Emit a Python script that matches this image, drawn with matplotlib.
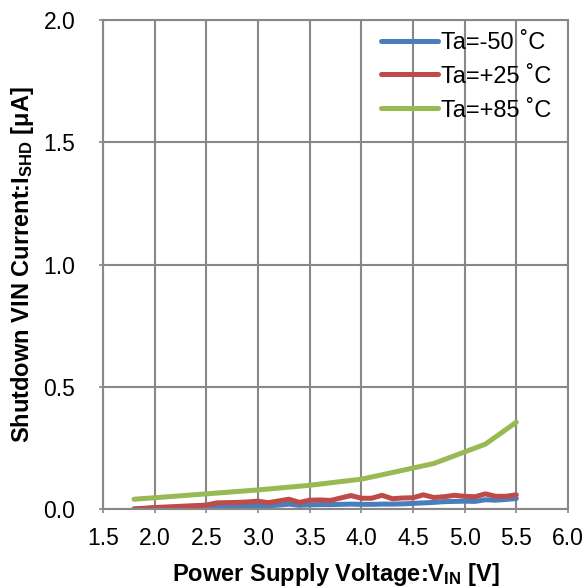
import matplotlib
matplotlib.use("Agg")
import matplotlib.pyplot as plt

plt.rcParams["font.family"] = ["Liberation Sans", "DejaVu Sans"]
plt.rcParams["mathtext.fontset"] = "custom"
plt.rcParams["mathtext.rm"] = "Liberation Sans:bold"
plt.rcParams["mathtext.it"] = "Liberation Sans:bold"
plt.rcParams["mathtext.bf"] = "Liberation Sans:bold"

# Supply voltage sweep (V) for the -50 / +25 degree curves
vin = [1.8, 1.9, 2.0, 2.1, 2.2, 2.3, 2.4, 2.5, 2.6, 2.7, 2.8, 2.9, 3.0, 3.1,
       3.2, 3.3, 3.4, 3.5, 3.6, 3.7, 3.8, 3.9, 4.0, 4.1, 4.2, 4.3, 4.4, 4.5,
       4.6, 4.7, 4.8, 4.9, 5.0, 5.1, 5.2, 5.3, 5.4, 5.5]

# Shutdown current (uA)
i_m50 = [0.000, 0.002, 0.004, 0.005, 0.006, 0.007, 0.008, 0.009, 0.010, 0.011,
         0.012, 0.013, 0.014, 0.013, 0.016, 0.020, 0.015, 0.017, 0.018, 0.018,
         0.019, 0.020, 0.019, 0.019, 0.020, 0.020, 0.021, 0.023, 0.025, 0.027,
         0.030, 0.031, 0.032, 0.031, 0.038, 0.036, 0.039, 0.043]
i_p25 = [0.000, 0.003, 0.006, 0.008, 0.010, 0.012, 0.014, 0.016, 0.025, 0.026,
         0.027, 0.029, 0.032, 0.026, 0.033, 0.040, 0.027, 0.036, 0.037, 0.035,
         0.045, 0.055, 0.044, 0.044, 0.056, 0.042, 0.045, 0.046, 0.058, 0.047,
         0.050, 0.056, 0.052, 0.050, 0.062, 0.052, 0.052, 0.058]

vin_85 = [1.8, 2.0, 2.5, 3.0, 3.5, 4.0, 4.3, 4.7, 5.2, 5.5]
i_p85 = [0.040, 0.046, 0.062, 0.078, 0.097, 0.122, 0.149, 0.186, 0.265, 0.355]

labels = ["Ta=-50 ˚C", "Ta=+25 ˚C", "Ta=+85 ˚C"]
colors = ["#4a7ebb", "#be4b48", "#98b954"]

fig = plt.figure(figsize=(5.84, 5.88), dpi=100)
ax = fig.add_axes([103 / 584, 1 - 509 / 588, 465 / 584, 489 / 588])

lw = 3.6
ax.plot(vin, i_m50, color=colors[0], lw=lw, label=labels[0], solid_capstyle="round")
ax.plot(vin, i_p25, color=colors[1], lw=lw, label=labels[1], solid_capstyle="round")
ax.plot(vin_85, i_p85, color=colors[2], lw=lw, label=labels[2], solid_capstyle="round")

ax.set_xlim(1.5, 6.0)
ax.set_ylim(0.0, 2.0)
ax.set_xticks([1.5, 2.0, 2.5, 3.0, 3.5, 4.0, 4.5, 5.0, 5.5, 6.0])
ax.set_yticks([0.0, 0.5, 1.0, 1.5, 2.0])
ax.xaxis.set_major_formatter(matplotlib.ticker.FormatStrFormatter("%.1f"))
ax.yaxis.set_major_formatter(matplotlib.ticker.FormatStrFormatter("%.1f"))

grid_c = "#888888"
ax.grid(True, color=grid_c, lw=1.5)
ax.set_axisbelow(True)
for s in ax.spines.values():
    s.set_color(grid_c)
    s.set_linewidth(1.5)
ax.tick_params(axis="both", colors=grid_c, labelcolor="black", labelsize=16.5,
               length=3, width=1.2)
ax.tick_params(axis="x", pad=10)
ax.tick_params(axis="y", pad=17)

ax.set_xlabel("Power Supply Voltage:V$_{\\mathrm{IN}}$ [V]", fontsize=17,
              fontweight="bold", labelpad=8)
ax.set_ylabel("Shutdown VIN Current:I$_{\\mathrm{SHD}}$ [μA]", fontsize=17,
              fontweight="bold", labelpad=5)

leg = ax.legend(loc="upper right", frameon=False, fontsize=17,
                handlelength=2.4, handletextpad=0.15, labelspacing=0.5,
                borderaxespad=0.0, bbox_to_anchor=(0.985, 0.995))

fig.savefig("out.png", dpi=100)
